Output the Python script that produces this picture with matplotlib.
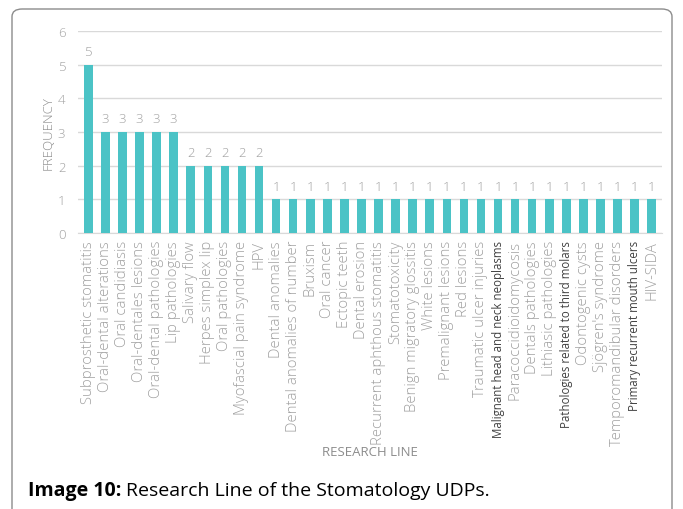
import matplotlib.pyplot as plt
from matplotlib.patches import FancyBboxPatch

categories = [
    "Subprosthetic stomatitis", "Oral-dental alterations", "Oral candidiasis",
    "Oral-dentales lesions", "Oral-dental pathologies", "Lip pathologies",
    "Salivary flow", "Herpes simplex lip", "Oral pathologies",
    "Myofascial pain syndrome", "HPV", "Dental anomalies",
    "Dental anomalies of number", "Bruxism", "Oral cancer", "Ectopic teeth",
    "Dental erosion", "Recurrent aphthous stomatitis", "Stomatotoxicity",
    "Benign migratory glossitis", "White lesions", "Premalignant lesions",
    "Red lesions", "Traumatic ulcer injuries",
    "Malignant head and neck neoplasms", "Paracoccidioidomycosis",
    "Dentals pathologies", "Lithiasic pathologies",
    "Pathologies related to third molars", "Odontogenic cysts",
    "Sjögren's syndrome", "Temporomandibular disorders",
    "Primary recurrent mouth ulcers", "HIV-SIDA",
]
frequency = [5, 3, 3, 3, 3, 3, 2, 2, 2, 2, 2] + [1] * 23
dark_labels = ["Malignant head and neck neoplasms",
               "Pathologies related to third molars",
               "Primary recurrent mouth ulcers"]

plt.rcParams['font.family'] = ['Open Sans', 'DejaVu Sans']
grey = '#a0a0a0'
fs = 9.5

fig = plt.figure(figsize=(6.83, 5.10), dpi=100)
ax = fig.add_axes([78 / 683, 1 - 234 / 510, (662 - 78) / 683, (234 - 32) / 510])

x = range(len(categories))
ax.bar(x, frequency, width=0.5, color='#4BC3C6', zorder=3)
for xi, v in zip(x, frequency):
    ax.text(xi, v + 0.2, str(v), ha='center', va='bottom', fontsize=fs,
            color=grey, fontweight='light')

ax.set_xlim(-0.6, len(categories) - 0.4)
ax.set_ylim(0, 6)
ax.set_yticks(range(7))
ax.grid(axis='y', color='#d9d9d9', linewidth=1, zorder=0)
for s in ['top', 'right', 'left']:
    ax.spines[s].set_visible(False)
ax.spines['bottom'].set_color('#d9d9d9')
ax.tick_params(axis='both', length=0, labelsize=fs, colors=grey)
ax.tick_params(axis='y', pad=9)
ax.tick_params(axis='x', pad=5)
ax.set_xticks(list(x))
ax.set_xticklabels(categories, rotation=90, fontweight='light', fontsize=10.7)
for lab in ax.get_yticklabels():
    lab.set_fontweight('light')
for lab in ax.get_xticklabels():
    if lab.get_text() in dark_labels:
        lab.set_color('#404040')
        lab.set_fontweight('normal')
        lab.set_fontsize(8.3)

ax.set_ylabel('FREQUENCY', fontsize=fs, color='#8c8c8c', labelpad=2,
              fontweight='light')
fig.text(370 / 683, 1 - 453 / 510, 'RESEARCH LINE', ha='center', va='center',
         fontsize=9.5, color='#8c8c8c')

border = FancyBboxPatch((12 / 683, -0.05), (672 - 12) / 683, 1 - 10 / 510 + 0.05,
                        boxstyle='round,pad=0,rounding_size=0.015',
                        transform=fig.transFigure, fill=False,
                        edgecolor='#8c8c8c', linewidth=1)
fig.patches.append(border)

# caption: bold prefix, then regular text right after it
cap_y = 1 - 491 / 510
t1 = fig.text(28 / 683, cap_y, 'Image 10:', fontsize=14, fontweight='bold',
              color='black', va='center', ha='left')
fig.canvas.draw()
bb = t1.get_window_extent()
fig.text((bb.x1 + 5) / 683, cap_y, 'Research Line of the Stomatology UDPs.',
         fontsize=14, color='black', va='center', ha='left')

fig.savefig('out.png', dpi=100)
